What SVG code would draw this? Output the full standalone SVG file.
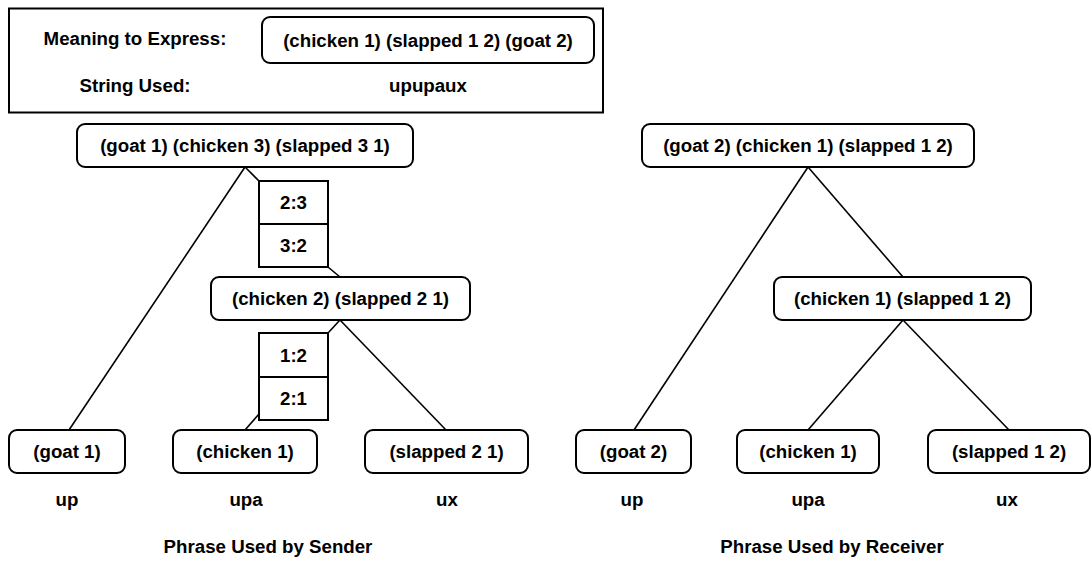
<svg xmlns="http://www.w3.org/2000/svg" width="1092" height="561" viewBox="0 0 1092 561">
  <style>
    text { font-family: "Liberation Sans", Arial, sans-serif; font-weight: bold; font-size: 18.7px; fill: #000; text-anchor: middle; }
    .node { fill: #fff; stroke: #000; stroke-width: 2; }
    .sq { fill: #fff; stroke: #000; stroke-width: 2; }
    .edge { stroke: #000; stroke-width: 1.6; fill: none; }
  </style>
  <rect width="1092" height="561" fill="#fff"/>

  <!-- header panel -->
  <g id="header">
    <rect x="9" y="8.5" width="594" height="104" fill="#fff" stroke="#000" stroke-width="2"/>
    <text x="135" y="45">Meaning to Express:</text>
    <rect class="node" x="262" y="17" width="332" height="46" rx="8"/>
    <text x="428" y="47">(chicken 1) (slapped 1 2) (goat 2)</text>
    <text x="135" y="92">String Used:</text>
    <text x="428" y="92">upupaux</text>
  </g>

  <!-- connectors -->
  <g id="connectors">
    <!-- sender tree -->
    <line class="edge" x1="245" y1="167" x2="69" y2="430"/>
    <line class="edge" x1="245" y1="167" x2="259" y2="181"/>
    <line class="edge" x1="328" y1="267" x2="340" y2="277"/>
    <line class="edge" x1="340" y1="320" x2="328" y2="333"/>
    <line class="edge" x1="259" y1="414" x2="245" y2="430"/>
    <line class="edge" x1="340" y1="320" x2="446" y2="430"/>
    <!-- receiver tree -->
    <line class="edge" x1="808" y1="167" x2="634" y2="430"/>
    <line class="edge" x1="808" y1="167" x2="903" y2="277"/>
    <line class="edge" x1="903" y1="320" x2="808" y2="430"/>
    <line class="edge" x1="903" y1="320" x2="1009" y2="430"/>
  </g>

  <!-- sender tree nodes -->
  <g id="s-root">
    <rect class="node" x="77" y="124" width="336" height="43" rx="8"/>
    <text x="245" y="152">(goat 1) (chicken 3) (slapped 3 1)</text>
  </g>
  <g id="s-map-top">
    <rect class="sq" x="259" y="181" width="69" height="43"/>
    <rect class="sq" x="259" y="224" width="69" height="43"/>
    <text x="293.5" y="209">2:3</text>
    <text x="293.5" y="252">3:2</text>
  </g>
  <g id="s-mid">
    <rect class="node" x="211" y="277" width="259" height="43" rx="8"/>
    <text x="340.5" y="305">(chicken 2) (slapped 2 1)</text>
  </g>
  <g id="s-map-low">
    <rect class="sq" x="259" y="333" width="69" height="44"/>
    <rect class="sq" x="259" y="377" width="69" height="43"/>
    <text x="293.5" y="362">1:2</text>
    <text x="293.5" y="405">2:1</text>
  </g>
  <g id="s-goat">
    <rect class="node" x="9" y="430" width="116" height="43" rx="8"/>
    <text x="67" y="458">(goat 1)</text>
    <text x="67" y="506">up</text>
  </g>
  <g id="s-chicken">
    <rect class="node" x="173" y="430" width="144" height="43" rx="8"/>
    <text x="245" y="458">(chicken 1)</text>
    <text x="246" y="506">upa</text>
  </g>
  <g id="s-slapped">
    <rect class="node" x="365" y="430" width="163" height="43" rx="8"/>
    <text x="446.5" y="458">(slapped 2 1)</text>
    <text x="447" y="506">ux</text>
  </g>
  <text x="268" y="553">Phrase Used by Sender</text>

  <!-- receiver tree nodes -->
  <g id="r-root">
    <rect class="node" x="642" y="124" width="332" height="43" rx="8"/>
    <text x="808" y="152">(goat 2) (chicken 1) (slapped 1 2)</text>
  </g>
  <g id="r-mid">
    <rect class="node" x="774" y="277" width="257" height="43" rx="8"/>
    <text x="902.5" y="305">(chicken 1) (slapped 1 2)</text>
  </g>
  <g id="r-goat">
    <rect class="node" x="576" y="430" width="115" height="43" rx="8"/>
    <text x="633.5" y="458">(goat 2)</text>
    <text x="632" y="506">up</text>
  </g>
  <g id="r-chicken">
    <rect class="node" x="737" y="430" width="142" height="43" rx="8"/>
    <text x="808" y="458">(chicken 1)</text>
    <text x="808" y="506">upa</text>
  </g>
  <g id="r-slapped">
    <rect class="node" x="928" y="430" width="162" height="43" rx="8"/>
    <text x="1009" y="458">(slapped 1 2)</text>
    <text x="1007" y="506">ux</text>
  </g>
  <text x="832" y="553">Phrase Used by Receiver</text>
</svg>
